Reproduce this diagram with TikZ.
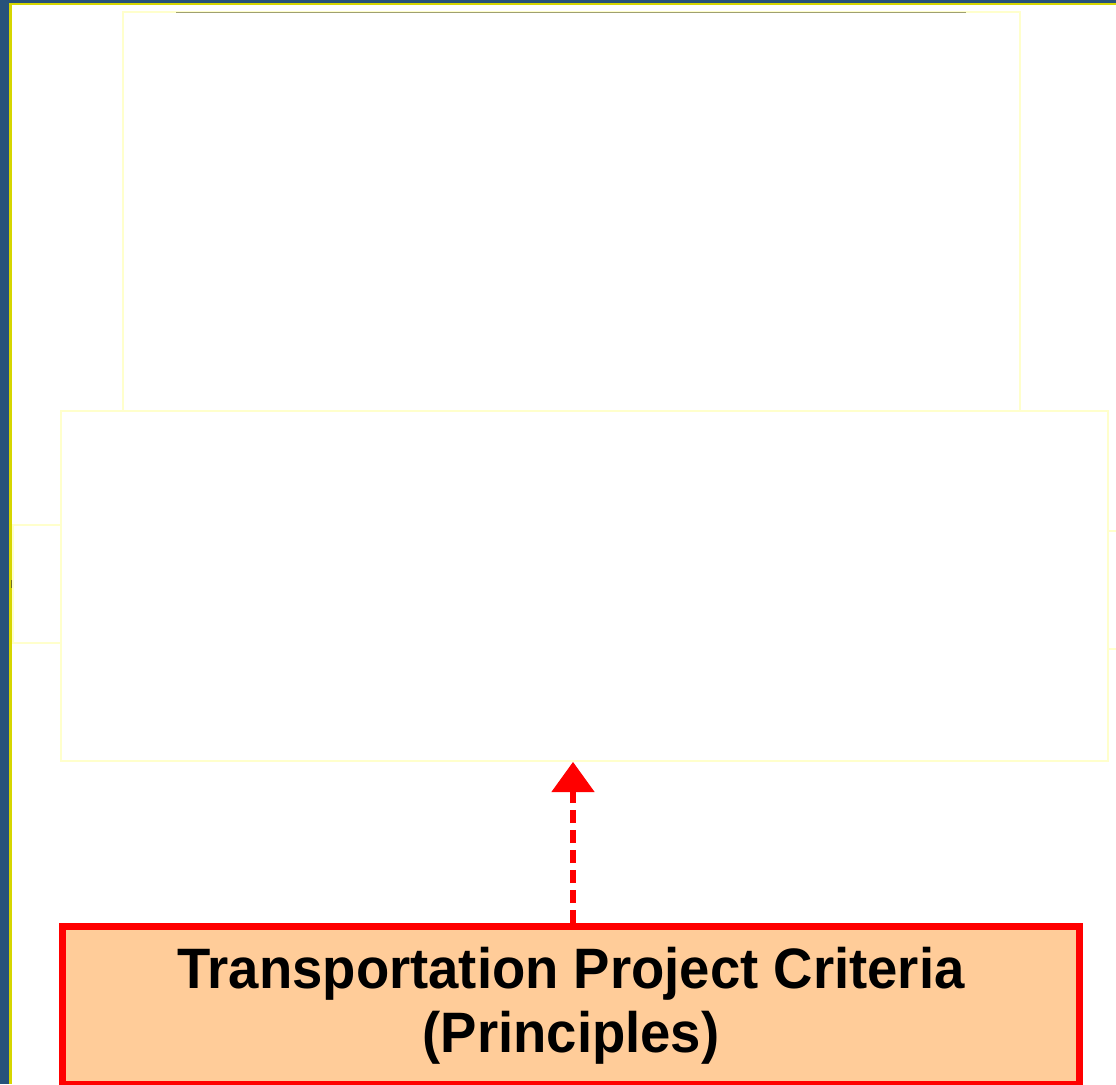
\documentclass[tikz,border=0pt]{standalone}
\usepackage{fontspec}
\setmainfont{Liberation Sans}
\usetikzlibrary{arrows.meta}
\definecolor{bgblue}{RGB}{39,82,122}
\definecolor{edgeyellow}{RGB}{214,214,0}
\definecolor{paleyellow}{RGB}{255,255,204}
\definecolor{olivegray}{RGB}{160,160,112}
\definecolor{peach}{RGB}{255,204,153}
\definecolor{tickolive}{RGB}{110,110,40}
\newcommand{\narrowtext}[1]{\scalebox{0.956}[1]{#1}}
\tikzset{
  ghostbox/.style={draw=paleyellow, line width=2pt, rectangle, inner sep=0pt},
  critbox/.style={draw=red, fill=peach, line width=7pt, rectangle, inner sep=0pt,
    align=center, font=\fontsize{57pt}{64pt}\selectfont\bfseries},
  deparrow/.style={red, line width=6pt, dash pattern=on 13pt off 7pt,
    -{Triangle[width=43pt,length=30pt,line width=1pt]}}
}
\begin{document}
\begin{tikzpicture}[x=1pt,y=-1pt]
\useasboundingbox (0,0) rectangle (1116,1084);
\fill[bgblue] (0,0) rectangle (1116,1084);
\fill[edgeyellow] (9,3) rectangle (1116,1084);
\fill[white] (12,5) rectangle (1116,1084);
\fill[tickolive] (11,580) rectangle (13,588);
% empty boxes
\node[ghostbox, minimum width=897pt, minimum height=399pt] (top) at (571.5,211.5) {};
\node[ghostbox, minimum width=48pt, minimum height=118pt] (left) at (37,584) {};
\node[ghostbox, minimum width=1047pt, minimum height=350pt] (mid) at (584.5,586) {};
\coordinate (rstubA) at (1116,531);
\coordinate (rstubB) at (1116,649);
\draw[paleyellow, line width=2pt] (rstubA -| mid.east) -- (rstubA);
\draw[paleyellow, line width=2pt] (rstubB -| mid.east) -- (rstubB);
\draw[olivegray, line width=1pt] (176,12.3) -- (966,12.3);
% criteria box
\node[critbox, minimum width=1017pt, minimum height=158pt] (crit) at (571,1005.5)
  {\narrowtext{Transportation Project Criteria}\\\narrowtext{(Principles)}};
\draw[deparrow] ([xshift=2pt]crit.north) -- ([xshift=2pt]crit.north |- mid.south);
\end{tikzpicture}
\end{document}
